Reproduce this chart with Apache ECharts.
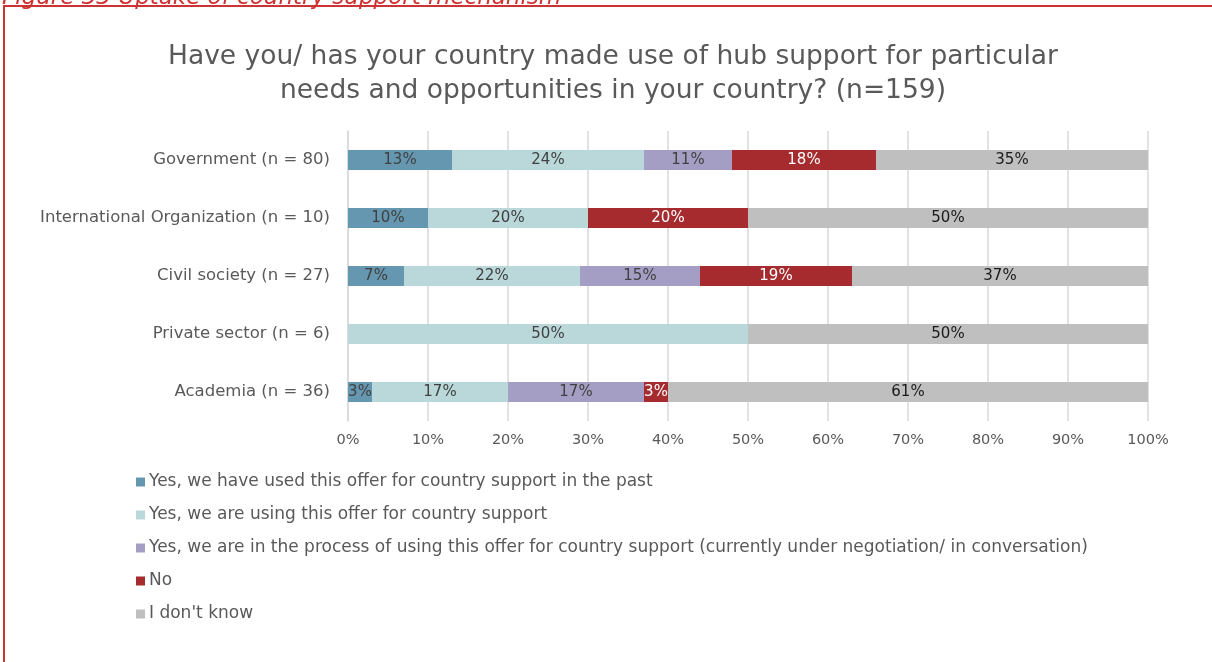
<!DOCTYPE html>
<html>
<head>
<meta charset="utf-8">
<script src="https://cdn.jsdelivr.net/npm/echarts@6/dist/echarts.min.js"></script>
<style>
  html, body { margin: 0; padding: 0; background: #ffffff; }
  #chart { width: 1212px; height: 662px; }
</style>
</head>
<body>
<div id="chart"></div>
<script>
// Respondent groups, top to bottom
const categories = [
  'Government (n = 80)',
  'International Organization (n = 10)',
  'Civil society (n = 27)',
  'Private sector (n = 6)',
  'Academia (n = 36)'
];

// Answer options (legend order)
const seriesNames = [
  'Yes, we have used this offer for country support in the past',
  'Yes, we are using this offer for country support',
  'Yes, we are in the process of using this offer for country support (currently under negotiation/ in conversation)',
  'No',
  "I don't know"
];

// Share of respondents (%) per group, one array per answer option
const usedPast   = [13, 10, 7, 0, 3];
const usingNow   = [24, 20, 22, 50, 17];
const inProcess  = [11, 0, 15, 0, 17];
const answerNo   = [18, 20, 19, 0, 3];
const dontKnow   = [35, 50, 37, 50, 61];

// Axis tick labels
const xTicks = ['0%', '10%', '20%', '30%', '40%', '50%', '60%', '70%', '80%', '90%', '100%'];

const values = [usedPast, usingNow, inProcess, answerNo, dontKnow];
const colors = ['#6697B0', '#BAD8DA', '#A59EC4', '#A52B2E', '#BFBFBF'];
const labelColors = ['#404040', '#404040', '#404040', '#FFFFFF', '#1A1A1A'];

const FONT = 'DejaVu Sans';

const series = values.map((arr, i) => ({
  name: seriesNames[i],
  type: 'bar',
  stack: 'total',
  barWidth: 20,
  data: arr,
  itemStyle: { color: colors[i] },
  label: {
    show: true,
    position: 'inside',
    color: labelColors[i],
    fontFamily: FONT,
    fontSize: 15,
    formatter: p => (p.value ? p.value + '%' : '')
  },
  emphasis: { disabled: true }
}));

const chart = echarts.init(document.getElementById('chart'), null, { renderer: 'canvas' });

chart.setOption({
  animation: false,
  backgroundColor: '#ffffff',
  textStyle: { fontFamily: FONT },
  title: {
    text: 'Have you/ has your country made use of hub support for particular\nneeds and opportunities in your country? (n=159)',
    left: 608,
    textAlign: 'center',
    top: 35,
    textStyle: {
      fontFamily: FONT,
      fontSize: 26.5,
      fontWeight: 'normal',
      color: '#595959',
      lineHeight: 34
    }
  },
  grid: { left: 348, top: 131, width: 800, height: 290, containLabel: false },
  xAxis: {
    type: 'value',
    min: 0,
    max: 100,
    interval: 10,
    axisLine: { show: false },
    axisTick: { show: false },
    splitLine: { show: true, lineStyle: { color: '#D9D9D9', width: 1.5 } },
    axisLabel: {
      color: '#595959',
      fontFamily: FONT,
      fontSize: 14.5,
      margin: 12,
      formatter: (v) => xTicks[Math.round(v / 10)]
    }
  },
  yAxis: {
    type: 'category',
    inverse: true,
    data: categories,
    axisLine: { show: true, lineStyle: { color: '#D9D9D9', width: 1.5 } },
    axisTick: { show: false },
    axisLabel: {
      color: '#595959',
      fontFamily: FONT,
      fontSize: 16.5,
      margin: 18
    }
  },
  legend: {
    orient: 'vertical',
    left: 131,
    top: 468,
    itemWidth: 9,
    itemHeight: 9,
    itemGap: 15,
    icon: 'rect',
    selectedMode: false,
    data: seriesNames,
    textStyle: {
      color: '#595959',
      fontFamily: FONT,
      fontSize: 17,
      lineHeight: 18,
      padding: [0, 0, 0, -1]
    }
  },
  graphic: [
    {
      type: 'rect',
      shape: { x: 4, y: 6, width: 1230, height: 700 },
      style: { fill: 'none', stroke: '#CC3333', lineWidth: 2 },
      silent: true
    },
    {
      type: 'text',
      left: 2,
      top: -13,
      style: {
        text: 'Figure 33 Uptake of country support mechanism',
        fill: '#D03030',
        font: 'italic 23px "DejaVu Sans"'
      },
      silent: true
    }
  ],
  series: series
});
</script>
</body>
</html>
